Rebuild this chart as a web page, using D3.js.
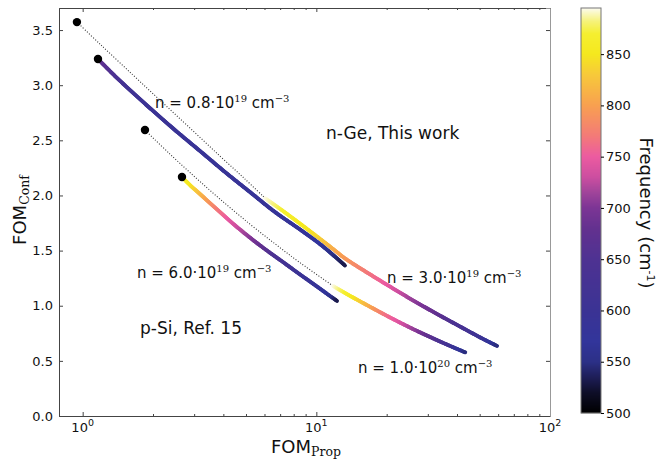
<!DOCTYPE html>
<html><head><meta charset="utf-8">
<script src="https://cdn.jsdelivr.net/npm/d3@7"></script>
<style>body{margin:0;background:#fff}text{font-family:"DejaVu Sans",sans-serif;fill:#111}</style>
</head><body><svg id="c" width="660" height="459"></svg>
<script>
// ---- data ----
const xTicks=[1,10,100]; const xTickExp=["0","1","2"];
const yTicks=[0,0.5,1,1.5,2,2.5,3,3.5];
const cbTicks=[500,550,600,650,700,750,800,850];

// n-Ge, n = 0.8e19
const ge08X=[1.163,1.375,1.594,1.941,2.484,3.18,4.07,5.20,6.66,8.52,10.37,11.80,13.27];
const ge08Y=[3.237,3.083,2.956,2.792,2.593,2.403,2.212,2.031,1.849,1.691,1.559,1.460,1.364];
const ge08F=[685,645,615,600,595,592,590,588,585,582,570,550,530];
// n-Ge, n = 3.0e19
const ge30X=[6.03,7.20,8.52,10.07,11.80,13.27,16.49,20.68,25.2,31.6,40.1,51.8,59.4];
const ge30Y=[1.976,1.859,1.744,1.627,1.514,1.429,1.301,1.173,1.064,0.945,0.825,0.698,0.635];
const ge30F=[895,870,855,840,810,795,770,745,715,685,640,600,545];
// p-Si, n = 6.0e19
const si60X=[2.661,2.880,3.178,3.507,3.870,4.271,4.714,5.36,6.15,7.20,8.52,10.07,11.45,12.27];
const si60Y=[2.167,2.094,2.013,1.931,1.850,1.768,1.691,1.596,1.500,1.396,1.283,1.174,1.088,1.043];
const si60F=[870,850,820,790,765,745,725,700,665,625,600,585,560,530];
// p-Si, n = 1.0e20
const si100X=[11.80,13.93,16.49,19.30,22.82,26.98,31.6,37.4,43.4];
const si100Y=[1.179,1.090,1.005,0.927,0.847,0.771,0.704,0.635,0.577];
const si100F=[895,860,815,770,740,705,665,615,545];
// dotted extrapolations
const ge30DotX=[0.945,1.186,1.642,2.14,2.88,3.87,4.95,6.03];
const ge30DotY=[3.572,3.373,3.092,2.865,2.611,2.357,2.149,1.976];
const si100DotX=[1.848,2.364,3.025,3.87,5.20,6.66,8.52,11.80];
const si100DotY=[2.593,2.375,2.167,1.967,1.740,1.561,1.390,1.179];
// start markers
const markX=[0.945,1.163,1.848,2.661];
const markY=[3.572,3.237,2.593,2.167];
// colormap
const cmapStops=[500,520,535,550,570,600,650,680,700,715,730,750,770,800,830,850,870,882,895];
const cmapColors=["#000000","#0e0e28","#1e1e58","#2c3087","#32359b","#3b3394","#4e3292","#63318f","#7c3595","#a0449a","#cc4ea0","#ec5ba0","#f37a78","#f8a050","#f7c93a","#f5e81e","#f5ef30","#f6f27a","#fcfbf0"];
// annotations
const nLabels=[
 {m:"0.8",e:"19",x:155,y:108},
 {m:"6.0",e:"19",x:137,y:278},
 {m:"3.0",e:"19",x:387,y:283},
 {m:"1.0",e:"20",x:358,y:373}];
const bigLabels=[{t:"n-Ge, This work",x:326,y:139},{t:"p-Si, Ref. 15",x:140,y:334}];

// ---- layout ----
const L=59,R=550,T=8,B=416;
const svg=d3.select("#c");
const x=d3.scaleLog().domain([0.792,100]).range([L,R]);
const y=d3.scaleLinear().domain([0,3.7]).range([B,T]);
const col=d3.scaleLinear().domain(cmapStops).range(cmapColors).clamp(true);
const lineGen=d3.line().x(d=>x(d[0])).y(d=>y(d[1])).curve(d3.curveCatmullRom.alpha(0.5));

// dotted lines
[[ge30DotX,ge30DotY],[si100DotX,si100DotY]].forEach(([xs,ys])=>{
  svg.append("path").attr("d",lineGen(xs.map((v,i)=>[v,ys[i]])))
   .attr("fill","none").attr("stroke","#333").attr("stroke-width",1.1).attr("stroke-dasharray","1,1.8");
});

// coloured curves (smooth path, coloured by frequency)
function colorCurve(xs,ys,fs){
  const g=svg.append("g");
  const tmp=svg.append("path").attr("d",lineGen(xs.map((v,i)=>[v,ys[i]]))).attr("fill","none");
  const node=tmp.node(), len=node.getTotalLength();
  const fOfX=d3.scaleLinear().domain(xs.map(v=>x(v))).range(fs).clamp(true);
  const step=1.5, pts=[];
  for(let s=0;s<len;s+=step)pts.push(node.getPointAtLength(s));
  pts.push(node.getPointAtLength(len));
  tmp.remove();
  for(let i=0;i<pts.length-1;i++){
    const p=pts[i],q=pts[i+1];
    g.append("line").attr("x1",p.x).attr("y1",p.y).attr("x2",q.x).attr("y2",q.y)
     .attr("stroke",col(fOfX((p.x+q.x)/2))).attr("stroke-width",3.8).attr("stroke-linecap","round");
  }
}
colorCurve(si60X,si60Y,si60F);
colorCurve(si100X,si100Y,si100F);
colorCurve(ge30X,ge30Y,ge30F);
colorCurve(ge08X,ge08Y,ge08F);

// markers
svg.selectAll("circle.m").data(markX).enter().append("circle")
  .attr("cx",d=>x(d)).attr("cy",(d,i)=>y(markY[i])).attr("r",4.2).attr("fill","#000");

// axes
const minor=[];[1,10].forEach(dec=>{for(let k=2;k<=9;k++)minor.push(k*dec);});
const ax=svg.append("g").attr("transform",`translate(0,${B})`)
 .call(d3.axisBottom(x).tickValues(xTicks).tickSize(-4).tickPadding(6).tickFormat(""));
ax.selectAll(".tick text").remove();
svg.append("g").attr("transform",`translate(0,${B})`)
 .call(d3.axisBottom(x).tickValues(minor).tickSize(-2).tickFormat("")).select(".domain").remove();
svg.append("g").attr("transform",`translate(0,${T})`)
 .call(d3.axisTop(x).tickValues(xTicks).tickSize(-4).tickFormat(""));
svg.append("g").attr("transform",`translate(0,${T})`)
 .call(d3.axisTop(x).tickValues(minor).tickSize(-2).tickFormat("")).select(".domain").remove();
xTicks.forEach((v,i)=>{
  const t=svg.append("text").attr("x",x(v)).attr("y",432).attr("text-anchor","middle").attr("font-size",13);
  t.append("tspan").text("10");
  t.append("tspan").attr("dy",-6).attr("font-size",9.5).text(xTickExp[i]);
});
svg.append("g").attr("transform",`translate(${L},0)`)
 .call(d3.axisLeft(y).tickValues(yTicks).tickSize(-4).tickPadding(6).tickFormat(d3.format(".1f")))
 .selectAll("text").attr("font-size",13).attr("font-family","DejaVu Sans");
svg.append("g").attr("transform",`translate(${R},0)`)
 .call(d3.axisRight(y).tickValues(yTicks).tickSize(-4).tickFormat(""))
 .select(".domain").attr("stroke","#999");
svg.selectAll(".domain").filter(function(){return d3.select(this).attr("stroke")!=="#999";}).attr("stroke","#444");
svg.selectAll(".tick line").attr("stroke","#444");

// axis labels
const xl=svg.append("text").attr("x",306).attr("y",453).attr("text-anchor","middle").attr("font-size",18);
xl.append("tspan").text("FOM");
xl.append("tspan").attr("dy",3).attr("font-size",12.5).attr("font-family","DejaVu Serif").text("Prop");
const yl=svg.append("text").attr("transform","translate(26,210) rotate(-90)").attr("text-anchor","middle").attr("font-size",18);
yl.append("tspan").text("FOM");
yl.append("tspan").attr("dy",3).attr("font-size",12.5).attr("font-family","DejaVu Serif").text("Conf");

// annotations
nLabels.forEach(l=>{
  const t=svg.append("text").attr("x",l.x).attr("y",l.y).attr("font-size",15);
  t.append("tspan").text("n = "+l.m+"·10");
  t.append("tspan").attr("dy",-6).attr("font-size",10).attr("font-family","DejaVu Serif").text(l.e);
  t.append("tspan").attr("dy",6).text(" cm");
  t.append("tspan").attr("dy",-6).attr("font-size",10).attr("font-family","DejaVu Serif").text("−3");
});
bigLabels.forEach(l=>svg.append("text").attr("x",l.x).attr("y",l.y).attr("font-size",17).text(l.t));

// colorbar
const cbL=581,cbR=601,cbT=8,cbB=413;
const cy=d3.scaleLinear().domain([500,895]).range([cbB,cbT]);
const cb=svg.append("g");
for(let p=cbT;p<cbB;p+=1){
  cb.append("rect").attr("x",cbL).attr("y",p).attr("width",cbR-cbL).attr("height",1.2).attr("fill",col(cy.invert(p+0.5)));
}
cb.append("rect").attr("x",cbL).attr("y",cbT).attr("width",cbR-cbL).attr("height",cbB-cbT)
  .attr("fill","none").attr("stroke","#777").attr("stroke-width",1);
svg.append("g").attr("transform",`translate(${cbR},0)`)
 .call(d3.axisRight(cy).tickValues(cbTicks).tickSize(3).tickPadding(2))
 .call(g=>g.select(".domain").remove())
 .selectAll("text").attr("font-size",13).attr("font-family","DejaVu Sans");
const cl=svg.append("text").attr("transform","translate(640,213) rotate(90)").attr("text-anchor","middle").attr("font-size",18);
cl.append("tspan").text("Frequency (cm");
cl.append("tspan").attr("dy",-7).attr("font-size",11).text("-1");
cl.append("tspan").attr("dy",7).text(")");
</script></body></html>
